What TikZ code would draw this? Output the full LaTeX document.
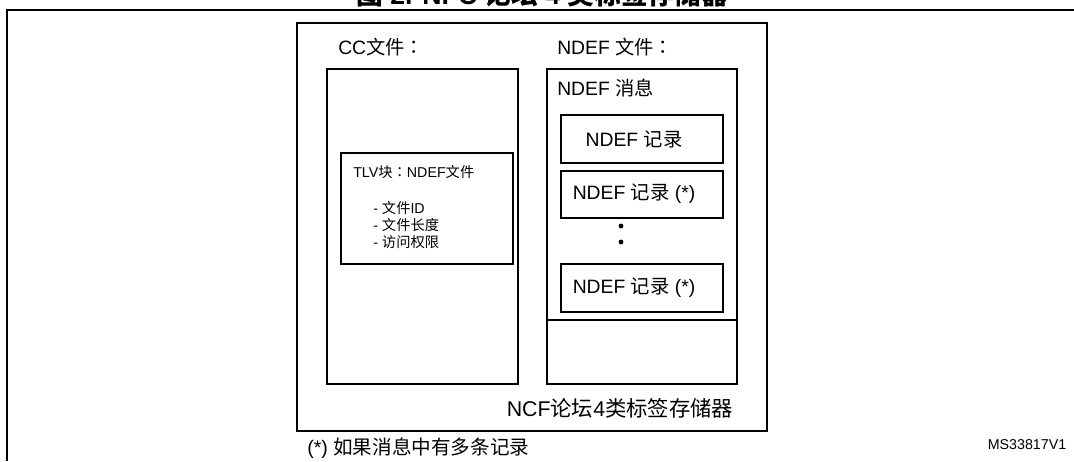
\documentclass[tikz,border=0pt]{standalone}
\usepackage{fontspec}
\setmainfont{Liberation Sans}
\newfontfamily\cjk{Noto Sans CJK SC}
\newfontfamily\cjktc{Noto Sans CJK TC}
\newcommand\zh[1]{{\cjk #1}}
\newcommand\zcolon{{\cjktc ：}}
\usetikzlibrary{fit}
\tikzset{
  px/.style={x=0.75pt,y=-0.75pt},
  box/.style={draw, line width=1.1pt, inner sep=0pt},
  lbl/.style={inner sep=0pt, font=\fontsize{14.5}{17}\selectfont},
  small/.style={inner sep=0pt, font=\fontsize{10.7}{12}\selectfont},
  frame/.style={line width=1.6pt},
  dotmark/.style={circle, fill=black, inner sep=0pt, minimum size=3.6pt}
}
\begin{document}
\begin{tikzpicture}[px]
\useasboundingbox (0,0) rectangle (1074,461);
\clip (0,0) rectangle (1074,461);
% title (clipped at top)
\node[anchor=base, inner sep=0pt, font=\fontsize{20}{24}\selectfont\bfseries] (title) at (542,4) {\zh{图} 2. NFC \zh{论坛} 4 \zh{类标签存储器}};
% frame
\coordinate (fbl) at (7,461);
\coordinate (ftl) at (7,10);
\coordinate (ftr) at (1074,10);
\draw[frame] (fbl) -- (ftl) -- (ftr);
% outer memory box
\node[box, fit={(297,23)(767,431)}] (outer) {};
% CC file box
\node[box, fit={(327,69)(518,384)}] (cc) {};
% NDEF file box
\node[box, fit={(547,69)(737,384)}] (ndef) {};
% TLV box
\node[box, fit={(341,153)(513,264)}] (tlv) {};
% records
\node[box, fit={(561,115)(723,163)}] (r1) {};
\node[box, fit={(561,171)(723,218)}] (r2) {};
\node[box, fit={(561,264)(723,312)}] (r3) {};
% divider
\coordinate (div) at (642,320);
\draw[line width=1.1pt] (ndef.west |- div) -- (ndef.east |- div);
% dots
\node[dotmark] (d1) at (621,226) {};
\node[dotmark] (d2) at (621,242) {};
% labels
\node[lbl, anchor=west] (cclbl) at (338,47) {CC\zh{文件}\zcolon};
\node[lbl, anchor=west] (ndeflbl) at (557,47) {NDEF \zh{文件}\zcolon};
\node[lbl, anchor=west] (msglbl) at (557,88) {NDEF \zh{消息}};
\node[lbl] (r1t) at (634,139) {NDEF \zh{记录}};
\node[lbl] (r2t) at (634,194) {NDEF \zh{记录} (*)};
\node[lbl] (r3t) at (634,288) {NDEF \zh{记录} (*)};
\node[small, anchor=west] (tlvt) at (353,172) {TLV\zh{块}\zcolon NDEF\zh{文件}};
\node[small, anchor=west] (i1) at (373,208) {- \zh{文件}ID};
\node[small, anchor=west] (i2) at (373,225) {- \zh{文件长度}};
\node[small, anchor=west] (i3) at (373,242) {- \zh{访问权限}};
\node[inner sep=0pt, font=\fontsize{16}{19}\selectfont] (mem) at (620,408) {NCF\zh{论坛}4\zh{类标签存储器}};
\node[inner sep=0pt, anchor=west, font=\fontsize{14.7}{17}\selectfont] (foot) at (307,448) {(*) \zh{如果消息中有多条记录}};
\node[small] (ms) at (1027,445) {MS33817V1};
\end{tikzpicture}
\end{document}
